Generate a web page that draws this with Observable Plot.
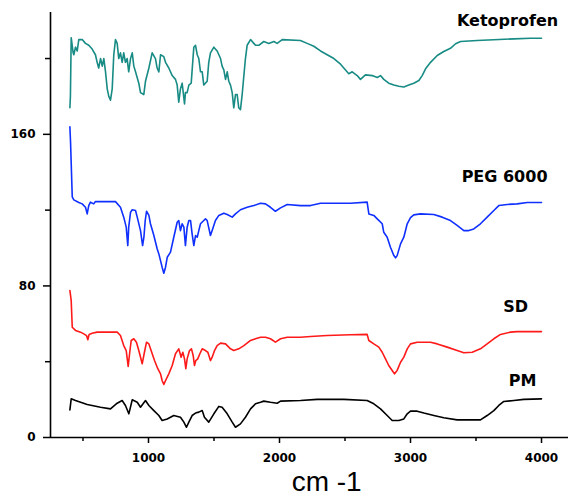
<!DOCTYPE html>
<html>
<head>
<meta charset="utf-8">
<script src="https://cdn.jsdelivr.net/npm/d3@7"></script>
<script src="https://cdn.jsdelivr.net/npm/@observablehq/plot@0.6"></script>
<style>
  html, body { margin: 0; padding: 0; background: #fff; }
</style>
</head>
<body>
<div id="chart"></div>
<script>
// Spectra: [wavenumber (cm-1), transmittance-like value]
const ketoprofen = [
  [400,174],[404,180],[410,211],[425,203],[430,202],[443,206],[456,204],[468,210],[494,210],[519,208],[544,207],
  [570,205],[595,202],[608,198],[620,195],[634,200],[647,196],[659,200],[672,193],[685,184],[697,180],
  [710,178],[723,184],[735,202],[748,210],[761,208],[773,200],[786,203],[799,198],[811,203],[824,198],
  [837,200],[849,193],[863,200],[876,203],[888,196],[901,193],[926,187],[939,182],[964,181],[977,188],
  [1003,195],[1028,203],[1053,200],[1066,195],[1079,193],[1092,202],[1117,201],[1130,198],[1155,195],
  [1181,191],[1206,189],[1219,186],[1231,177],[1244,184],[1257,187],[1275,176],[1282,182],[1295,182],
  [1308,186],[1326,187],[1346,206],[1359,207],[1372,202],[1384,200],[1397,193],[1410,193],[1422,186],
  [1448,188],[1460,198],[1473,203],[1499,206],[1524,204],[1550,200],[1562,196],[1575,194],[1588,189],
  [1601,193],[1613,188],[1626,186],[1639,182],[1651,174],[1664,181],[1677,181],[1689,174],[1702,173],
  [1715,181],[1728,191],[1740,200],[1753,207],[1779,210],[1804,208],[1817,207],[1842,207],[1880,209],
  [1918,208],[1957,209],[1982,208],[2021,210],[2160,209.5],[2211,208],[2262,206.5],[2313,204],[2364,202],
  [2415,200],[2466,197],[2504,194],[2529,192],[2555,193],[2593,191],[2618,189],[2656,191.4],[2708,191],
  [2746,190],[2771,191],[2796,189],[2834,187],[2873,186],[2911,185.4],[2949,185],[2987,186],[3025,187],
  [3064,188.4],[3089,191],[3115,194.6],[3153,198],[3204,201.6],[3254,203.7],[3305,205.4],[3344,207.8],
  [3382,209],[3509,209.5],[3789,210.4],[3916,210.7],[4000,210.7]
];
const peg6000 = [
  [400,164],[405,156],[418,127],[430,125.4],[468,124],[494,123.3],[519,121.5],[532,118],[544,122.4],
  [557,124.2],[582,123.3],[595,124.5],[748,124.5],[786,121.5],[811,116.3],[830,111],[842,101.3],[849,111],
  [863,118.9],[876,120.2],[901,119.8],[914,116.3],[939,109.2],[955,101.3],[965,105.7],[975,114.5],
  [985,119.4],[1003,117.2],[1015,112.8],[1041,106.6],[1066,99.6],[1079,96.9],[1104,89.9],[1117,86.7],
  [1130,89.9],[1143,95.1],[1168,97.8],[1193,105.7],[1219,113.6],[1231,114.5],[1244,109.2],[1257,112.8],
  [1270,111],[1282,101.3],[1295,111],[1308,114.5],[1321,114.5],[1333,107.5],[1346,101.3],[1359,106.6],
  [1372,105.7],[1384,109.2],[1397,112.8],[1422,114.5],[1435,115.4],[1448,114.5],[1473,106.6],[1486,109.2],
  [1511,114.5],[1537,117.2],[1575,118.4],[1601,117.7],[1639,116.3],[1664,118],[1702,120.2],[1753,121.5],
  [1804,122.4],[1855,123.6],[1893,123.3],[1931,121.5],[1969,119.4],[2008,121.2],[2059,123],[2160,122.4],
  [2237,122.4],[2313,123.6],[2415,123.6],[2542,123.6],[2669,124.2],[2682,118],[2720,117.2],[2746,115.4],
  [2784,112.8],[2796,108.3],[2822,105.7],[2847,100.4],[2873,96],[2886,94.8],[2898,96],[2924,102.2],
  [2949,105.7],[2975,112.8],[3000,116],[3025,117.5],[3076,118],[3178,117.7],[3242,116.3],[3305,114.5],
  [3356,111.9],[3407,109.2],[3445,109.2],[3483,110.1],[3534,112.8],[3585,116.3],[3636,119.8],[3674,122.4],
  [3738,123],[3814,123.3],[3891,124],[4000,124]
];
const sd = [
  [400,77.6],[410,72.3],[418,58.2],[443,56.5],[481,55.6],[506,54.7],[527,53.8],[537,51.6],[547,54.4],
  [570,55],[608,55.6],[761,55.6],[786,53.8],[811,48.5],[830,45.9],[845,37.5],[857,45],[868,51.2],
  [888,52.1],[908,50.3],[926,45.9],[952,38.9],[969,45],[985,50.3],[1003,49.4],[1020,45.9],[1046,40.6],
  [1071,36.3],[1092,33.6],[1104,30.1],[1117,28],[1137,31],[1155,33.6],[1181,38],[1206,44.2],[1231,46.8],
  [1249,42.4],[1262,45],[1275,41.5],[1285,36.3],[1295,41.5],[1313,45.9],[1328,46.8],[1341,43.3],
  [1351,38],[1361,40.6],[1376,41.5],[1392,44.2],[1410,46.8],[1435,45.9],[1453,45],[1473,40.6],
  [1486,42.4],[1504,45.9],[1524,48.5],[1550,49.8],[1588,49.4],[1626,46.8],[1651,45.9],[1689,46.8],
  [1728,48.5],[1779,51.2],[1817,52.1],[1855,52.9],[1893,52.9],[1931,52.1],[1969,50.3],[2008,52.1],
  [2059,52.9],[2160,52.9],[2237,53.3],[2364,53.8],[2542,54.2],[2669,54.4],[2682,51.2],[2720,49.4],
  [2758,47.7],[2784,45],[2809,41.5],[2834,38],[2860,35.4],[2878,33.6],[2898,35.4],[2924,39.7],
  [2949,42.4],[2975,46.8],[3000,49.4],[3051,50.3],[3153,50.3],[3204,49.4],[3280,47.7],[3356,45.9],
  [3407,44.7],[3471,45],[3534,46.8],[3585,49.4],[3636,52.1],[3687,54.4],[3763,55.6],[3814,55.9],[4000,55.9]
];
const pm = [
  [400,14.6],[410,20.4],[443,19.5],[532,17.4],[634,16],[710,15.1],[761,18.1],[799,19.5],[824,16.9],
  [850,12.5],[876,19.9],[914,18.6],[939,16],[977,19.5],[1003,16.9],[1041,14.2],[1079,11.6],[1104,9],
  [1143,9.8],[1193,11.6],[1244,10.7],[1270,8.1],[1290,5.4],[1308,8.1],[1333,11.6],[1359,12.9],
  [1384,13.4],[1410,14.2],[1427,10.7],[1460,8.1],[1499,12.5],[1537,16.4],[1562,16],[1601,12.5],
  [1639,8.1],[1664,5.4],[1702,7.2],[1740,10.7],[1779,15.1],[1817,17.8],[1855,18.6],[1880,19.2],
  [1931,18.6],[1982,18.1],[2008,19.2],[2160,19.5],[2288,20.1],[2364,20.1],[2491,20.1],[2669,19.5],
  [2720,17.8],[2771,15.1],[2822,11.6],[2860,9],[2911,9],[2949,9.8],[2975,12.5],[3000,13.9],[3051,13.9],
  [3102,12.9],[3178,11.6],[3254,10.4],[3356,9.3],[3534,9.3],[3585,11.6],[3636,14.2],[3674,16.9],
  [3712,19],[3789,19.5],[3865,20.1],[4000,20.4]
];

const seriesNames = ["Ketoprofen", "PEG 6000", "SD", "PM"];
const seriesColors = ["#178b84", "#1030ff", "#ff1a1a", "#000000"];
// label anchor (wavenumber, value)
const labelX = [3741, 3718, 3802, 3855];
const labelY = [217.4, 134.6, 66, 27.4];

const yMajorTicks = [0, 80, 160];
const yMinorTicks = [40, 120, 200];
const xMajorTicks = [1000, 2000, 3000, 4000];
const xMinorTicks = [500, 1500, 2500, 3500];
const xTitle = "cm -1";

const spectra = [ketoprofen, peg6000, sd, pm];
const rows = spectra.flatMap((s, i) => s.map(([w, v]) => ({series: seriesNames[i], w, v})));
const labels = seriesNames.map((name, i) => ({name, x: labelX[i], y: labelY[i]}));

const chart = Plot.plot({
  width: 570,
  height: 497,
  marginLeft: 50,
  marginRight: 2,
  marginTop: 12,
  marginBottom: 60,
  style: {fontFamily: "DejaVu Sans", fontWeight: "bold", fontSize: "12px", color: "#000", background: "#fff"},
  x: {domain: [252, 4206], axis: null},
  y: {domain: [0, 224.3], axis: null},
  color: {domain: seriesNames, range: seriesColors},
  marks: [
    Plot.line(rows, {x: "w", y: "v", z: "series", stroke: "series", strokeWidth: 1.6}),
    Plot.axisY(yMajorTicks, {tickSize: 7, tickPadding: 8, label: null, stroke: "#000", strokeWidth: 1.5,
      fontWeight: "bold", fontSize: 12, fontFamily: "DejaVu Sans"}),
    Plot.axisY(yMinorTicks, {tickSize: 5, tickFormat: () => "", label: null, stroke: "#000", strokeWidth: 1.5}),
    Plot.axisX(xMajorTicks, {tickSize: 6, tickPadding: 10, label: null, stroke: "#000", strokeWidth: 1.5,
      fontWeight: "bold", fontSize: 12, fontFamily: "DejaVu Sans", tickFormat: d => String(d)}),
    Plot.axisX(xMinorTicks, {tickSize: 4, tickFormat: () => "", label: null, stroke: "#000", strokeWidth: 1.5}),
    Plot.ruleX([252], {stroke: "#000", strokeWidth: 1.6}),
    Plot.ruleY([0], {stroke: "#000", strokeWidth: 1.6}),
    Plot.text(labels, {x: "x", y: "y", text: "name", textAnchor: "middle", lineAnchor: "bottom",
      fontSize: 16, fontWeight: "bold", fontFamily: "DejaVu Sans", fill: "#000"}),
    Plot.text([xTitle], {x: 2360, frameAnchor: "bottom", dy: 53, lineAnchor: "bottom", text: d => d,
      fontSize: 28, fontWeight: "normal", fontFamily: "Liberation Sans", fill: "#000"})
  ]
});
document.getElementById("chart").appendChild(chart);
</script>
</body>
</html>
